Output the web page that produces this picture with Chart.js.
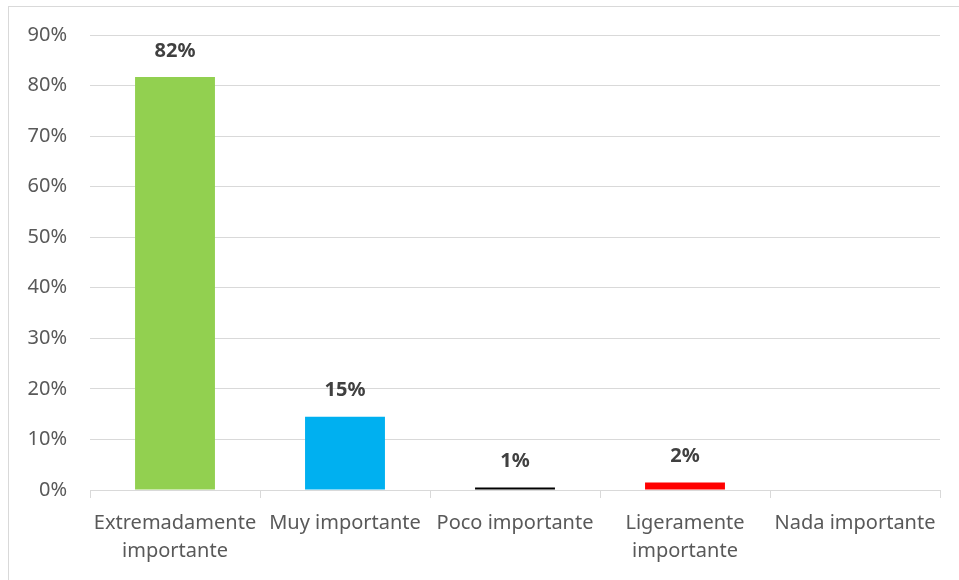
<!DOCTYPE html>
<html lang="es">
<head>
<meta charset="utf-8">
<title>Importancia</title>
<script src="https://cdn.jsdelivr.net/npm/chart.js@4.4.1/dist/chart.umd.min.js"></script>
<style>
    html, body { margin: 0; padding: 0; background: #fff; }
    .frame {
        position: absolute;
        left: 8px;
        top: 6px;
        width: 1000px;
        height: 640px;
        border: 1px solid #d9d9d9;
    }
    .chart-box {
        position: absolute;
        left: 0;
        top: 0;
        width: 959px;
        height: 580px;
    }
</style>
</head>
<body>
<div class="frame"></div>
<div class="chart-box"><canvas id="importanceChart"></canvas></div>
<script>
// categorías y porcentajes de respuesta
const categories = [
    ['Extremadamente', 'importante'],
    'Muy importante',
    'Poco importante',
    ['Ligeramente', 'importante'],
    'Nada importante'
];
const shares = [81.7, 14.5, 0.5, 1.5, 0];
const barColors = ['#92D050', '#00B0F0', '#000000', '#FF0000', '#7F7F7F'];
const yMax = 90;
const yStep = 10;

const fontFamily = "'Noto Sans', 'Open Sans', sans-serif";

// etiqueta de valor encima de cada barra
const valueLabels = {
    id: 'valueLabels',
    afterDatasetsDraw(chart) {
        const ctx = chart.ctx;
        const meta = chart.getDatasetMeta(0);
        ctx.save();
        ctx.font = 'bold 20px ' + fontFamily;
        ctx.fillStyle = '#404040';
        ctx.textAlign = 'center';
        ctx.textBaseline = 'middle';
        meta.data.forEach((bar, i) => {
            const v = shares[i];
            if (!v) return;
            ctx.fillText(Math.round(v) + '%', bar.x, bar.y - 26);
        });
        ctx.restore();
    }
};

const ctx = document.getElementById('importanceChart');
new Chart(ctx, {
    type: 'bar',
    data: {
        labels: categories,
        datasets: [{
            data: shares,
            backgroundColor: barColors,
            borderWidth: 0,
            barPercentage: 1,
            categoryPercentage: 0.47
        }]
    },
    options: {
        responsive: true,
        maintainAspectRatio: false,
        animation: false,
        layout: {
            padding: { top: 35, right: 19, left: 0, bottom: 0 }
        },
        plugins: {
            legend: { display: false },
            tooltip: { enabled: false }
        },
        scales: {
            x: {
                grid: {
                    offset: true,
                    drawOnChartArea: false,
                    drawTicks: true,
                    tickLength: 8,
                    color: '#d9d9d9'
                },
                border: { color: '#d9d9d9', width: 1 },
                ticks: {
                    color: '#595959',
                    font: { family: fontFamily, size: 20, lineHeight: 1.4 },
                    padding: 11,
                    maxRotation: 0,
                    minRotation: 0,
                    autoSkip: false
                },
                afterFit(scale) { scale.height = 90; }
            },
            y: {
                min: 0,
                max: yMax,
                grid: {
                    color: '#d9d9d9',
                    drawTicks: false
                },
                border: { display: false },
                ticks: {
                    stepSize: yStep,
                    color: '#595959',
                    font: { family: fontFamily, size: 20 },
                    padding: 23,
                    callback: v => v + '%'
                },
                afterFit(scale) { scale.width = 90; }
            }
        }
    },
    plugins: [valueLabels]
});
</script>
</body>
</html>
